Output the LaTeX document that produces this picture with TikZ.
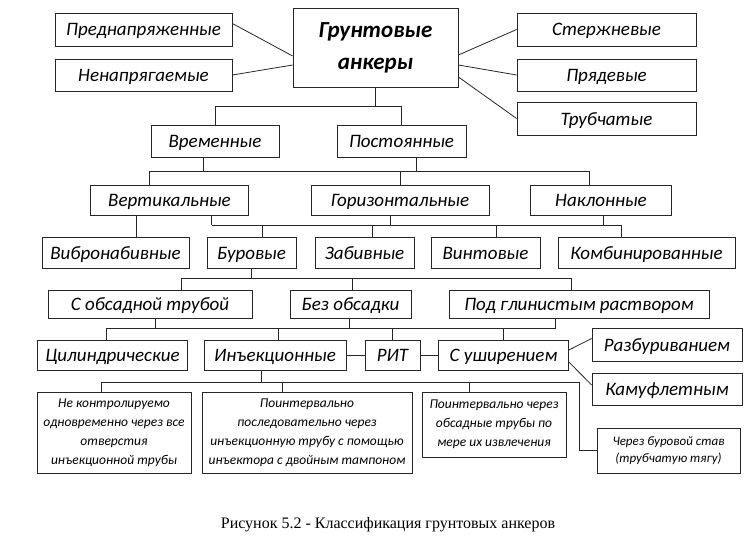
\documentclass[tikz,border=0pt]{standalone}
\usepackage{fontspec}
\setmainfont{Liberation Serif}
\newfontfamily\boxfont{Carlito}
\usetikzlibrary{positioning, calc}
\tikzset{
    frame/.style={draw=black!85, line width=0.8pt, inner sep=0pt, align=center,
        font=\boxfont\itshape\fontsize{19}{23}\selectfont},
    box/.style={frame, text height=16pt, text depth=3pt},
    note box/.style={frame, font=\boxfont\itshape\fontsize{13.5}{19}\selectfont},
    link/.style={draw=black!85, line width=0.8pt},
}

\begin{document}
\begin{tikzpicture}[x=1pt, y=-1pt]
    \useasboundingbox (0,0) rectangle (751,543);

    \node[frame, minimum width=165pt, minimum height=79pt,
        font=\boxfont\bfseries\itshape\fontsize{23}{32}\selectfont] (anchors) at (375.5,48) {Грунтовые\\анкеры};

    \node[box, minimum width=177pt, minimum height=33pt] (prestressed) at (143.5,29.5) {Преднапряженные};
    \node[box, minimum width=177pt, minimum height=32pt] (non_stressed) at (143.5,75) {Ненапрягаемые};
    \node[box, minimum width=179pt, minimum height=33pt] (rod) at (606.5,29.5) {Стержневые};
    \node[box, minimum width=179pt, minimum height=32pt] (strand) at (606.5,75) {Прядевые};
    \node[box, minimum width=179pt, minimum height=33pt] (tube) at (606.5,118.5) {Трубчатые};

    \draw[link] ([yshift=6pt]prestressed.east) -- ([yshift=-8pt]anchors.west);
    \draw[link] (non_stressed.east) -- ([yshift=-17pt]anchors.west);
    \draw[link] (rod.west) -- ([yshift=-7pt]anchors.east);
    \draw[link] (strand.west) -- ([yshift=-17pt]anchors.east);
    \draw[link] (tube.west) -- ([yshift=-29pt]anchors.east);

    \node[box, minimum width=128pt, minimum height=32pt] (temporary) at (215,141) {Временные};
    \node[box, minimum width=129pt, minimum height=32pt] (permanent) at (401.5,141) {Постоянные};

    \draw[link] (anchors.south) -- ++(0,18.5) coordinate (split1);
    \draw[link] (temporary.north) |- (split1) -| (permanent.north);

    \node[box, minimum width=158pt, minimum height=30pt] (vertical) at (169.5,200) {Вертикальные};
    \node[box, minimum width=178pt, minimum height=30pt] (horizontal) at (400,200) {Горизонтальные};
    \node[box, minimum width=141pt, minimum height=30pt] (inclined) at (601,200) {Наклонные};

    \draw[link] ([xshift=-12pt]temporary.south) -- ++(0,14) coordinate (split2);
    \draw[link] ([xshift=15pt]permanent.south) |- (split2);
    \draw[link] ([xshift=-20pt]vertical.north) |- (split2) -| ([xshift=-12pt]inclined.north);
    \draw[link] (horizontal.north) -- (horizontal.north |- split2);

    \node[box, minimum width=147pt, minimum height=31pt] (vibro) at (115.5,252.5) {Вибронабивные};
    \node[box, minimum width=89pt, minimum height=31pt] (drilled) at (251.5,252.5) {Буровые};
    \node[box, minimum width=99pt, minimum height=31pt] (driven) at (364.5,252.5) {Забивные};
    \node[box, minimum width=109pt, minimum height=31pt] (screw) at (485.5,252.5) {Винтовые};
    \node[box, minimum width=177pt, minimum height=31pt] (combined) at (646.5,252.5) {Комбинированные};

    \draw[link] ([xshift=-33pt]vertical.south) -- ([xshift=21pt]vibro.north);
    \draw[link] ([xshift=42pt]vertical.south) -- ++(0,10) coordinate (split3);
    \draw[link] (split3) -| ([xshift=-25pt]combined.north);
    \draw[link] ([xshift=-10pt]horizontal.south) |- (split3);
    \draw[link] ([xshift=2pt]inclined.south) |- (split3);
    \draw[link] ([xshift=11pt]drilled.north) |- (split3);
    \draw[link] ([xshift=8pt]driven.north) |- (split3);
    \draw[link] ([xshift=11pt]screw.north) |- (split3);

    \node[box, minimum width=204pt, minimum height=28pt] (with_casing) at (150,304) {С обсадной трубой};
    \node[box, minimum width=121pt, minimum height=28pt] (no_casing) at (350.5,304) {Без обсадки};
    \node[box, minimum width=260pt, minimum height=28pt] (under_clay) at (579,304) {Под глинистым раствором};

    \draw[link] (drilled.south) -- ++(0,10) coordinate (split4);
    \draw[link] ([xshift=31pt]with_casing.north) |- (split4) -| ([xshift=-8pt]under_clay.north);
    \draw[link] ([xshift=2pt]no_casing.north) |- (split4);

    \node[box, minimum width=150pt, minimum height=30pt] (cylindrical) at (112.5,355) {Цилиндрические};
    \node[box, minimum width=142pt, minimum height=30pt] (injection) at (275,355) {Инъекционные};
    \node[box, minimum width=55pt, minimum height=30pt] (rit) at (392.5,355) {РИТ};
    \node[box, minimum width=130pt, minimum height=30pt] (widened) at (503.5,355) {С уширением};
    \node[box, minimum width=150pt, minimum height=33pt] (reaming) at (667,344.5) {Разбуриванием};
    \node[box, minimum width=150pt, minimum height=32pt] (camouflet) at (667,389) {Камуфлетным};

    \draw[link] ([xshift=5pt]with_casing.south) -- ++(0,10) coordinate (split5);
    \draw[link] ([xshift=-1pt]no_casing.south) |- (split5);
    \draw[link] ([xshift=-24pt]under_clay.south) |- (split5);
    \draw[link] ([xshift=-6pt]cylindrical.north) |- (split5);
    \draw[link] ([xshift=3pt]injection.north) |- (split5);
    \draw[link] (rit.north) |- (split5);
    \draw[link] (widened.north) |- (split5);
    \draw[link] (injection) -- (rit);
    \draw[link] (rit) -- (widened);
    \draw[link] ([yshift=5pt]widened.east) -- ([yshift=6pt]reaming.west);
    \draw[link] ([yshift=-7pt]widened.east) -- ([yshift=4pt]camouflet.west);

    \node[note box, minimum width=154pt, minimum height=81pt] (uncontrolled) at (114,432.5)
        {Не контролируемо\\одновременно через все\\отверстия\\инъекционной трубы};
    \node[note box, minimum width=210pt, minimum height=81pt] (interval_tube) at (307,432.5)
        {Поинтервально\\последовательно через\\инъекционную трубу с помощью\\инъектора с двойным тампоном};
    \node[note box, minimum width=144pt, minimum height=65pt] (interval_casing) at (494,424.5)
        {Поинтервально через\\обсадные трубы по\\мере их извлечения};
    \node[note box, minimum width=143pt, minimum height=45pt,
        font=\boxfont\itshape\fontsize{13}{17}\selectfont] (drill_string) at (668.5,450.5)
        {Через буровой став\\(трубчатую тягу)};

    \draw[link] ([xshift=-14pt]injection.south) -- ++(0,12) coordinate (split6);
    \draw[link] ([xshift=-13pt]uncontrolled.north) |- (split6);
    \draw[link] ([xshift=-25pt]interval_tube.north) |- (split6);
    \draw[link] ([xshift=-25pt]interval_casing.north) |- (split6);
    \draw[link] (split6) -| ([xshift=-17pt]drill_string.west) -- (drill_string.west);

    \node[font=\fontsize{16}{19}\selectfont] (caption) at (388,525) {Рисунок 5.2 - Классификация грунтовых анкеров};
\end{tikzpicture}
\end{document}
